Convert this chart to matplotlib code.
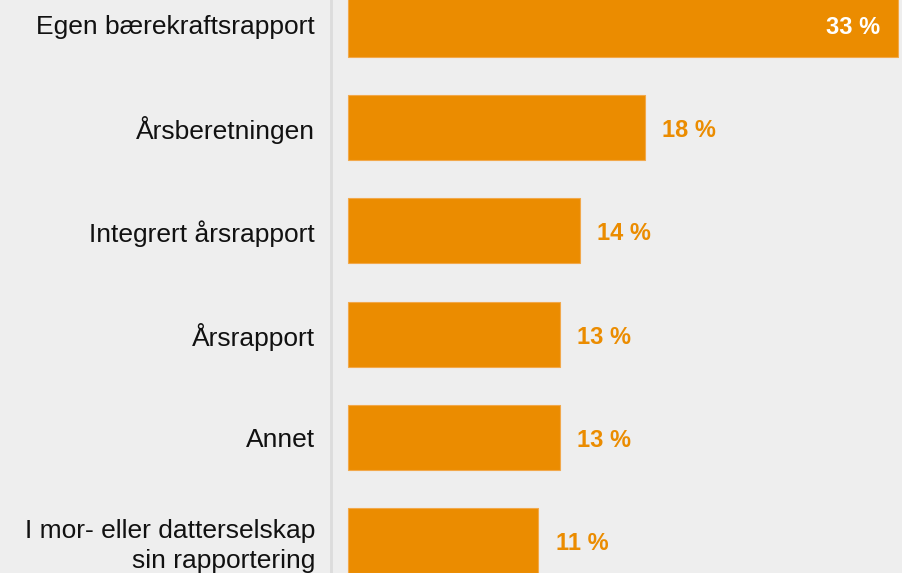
import matplotlib
matplotlib.use('Agg')
import matplotlib.pyplot as plt

categories = ['Egen bærekraftsrapport', 'Årsberetningen', 'Integrert årsrapport',
              'Årsrapport', 'Annet', 'I mor- eller datterselskap\nsin rapportering']
values = [33.0, 17.8, 13.9, 12.7, 12.7, 11.4]
value_labels = ['33 %', '18 %', '14 %', '13 %', '13 %', '11 %']

BAR = '#EB8C00'
BG = '#EEEEEE'

plt.rcParams['font.family'] = ['Liberation Sans', 'DejaVu Sans']

fig = plt.figure(figsize=(9.03, 5.73), dpi=100, facecolor=BG)
ax = fig.add_axes([331 / 903, 0, 1 - 331 / 903, 1])
ax.set_facecolor(BG)

pos = list(range(len(categories)))
ax.barh(pos, values, height=0.63, color=BAR, edgecolor='#F2A84A', linewidth=0.8)

for i, (v, lab) in enumerate(zip(values, value_labels)):
    if i == 0:
        ax.text(v - 1.05, i + 0.025, lab, ha='right', va='center', color='white',
                fontsize=17, fontweight='bold')
    else:
        ax.text(v + 1.05, i + 0.03, lab, ha='left', va='center', color=BAR,
                fontsize=17, fontweight='bold')

ax.set_xlim(-1.02, 33.3)
ax.set_ylim(5.315, -0.237)
ax.set_yticks(pos)
ax.set_yticklabels(categories, fontsize=19, color='#111111', linespacing=1.3)
ax.tick_params(axis='y', length=0, pad=11.5)
ax.set_xticks([])
for s in ['top', 'right', 'bottom']:
    ax.spines[s].set_visible(False)
ax.spines['left'].set_color('#DCDCDC')
ax.spines['left'].set_linewidth(2)

fig.savefig('out.png', dpi=100, facecolor=BG)
